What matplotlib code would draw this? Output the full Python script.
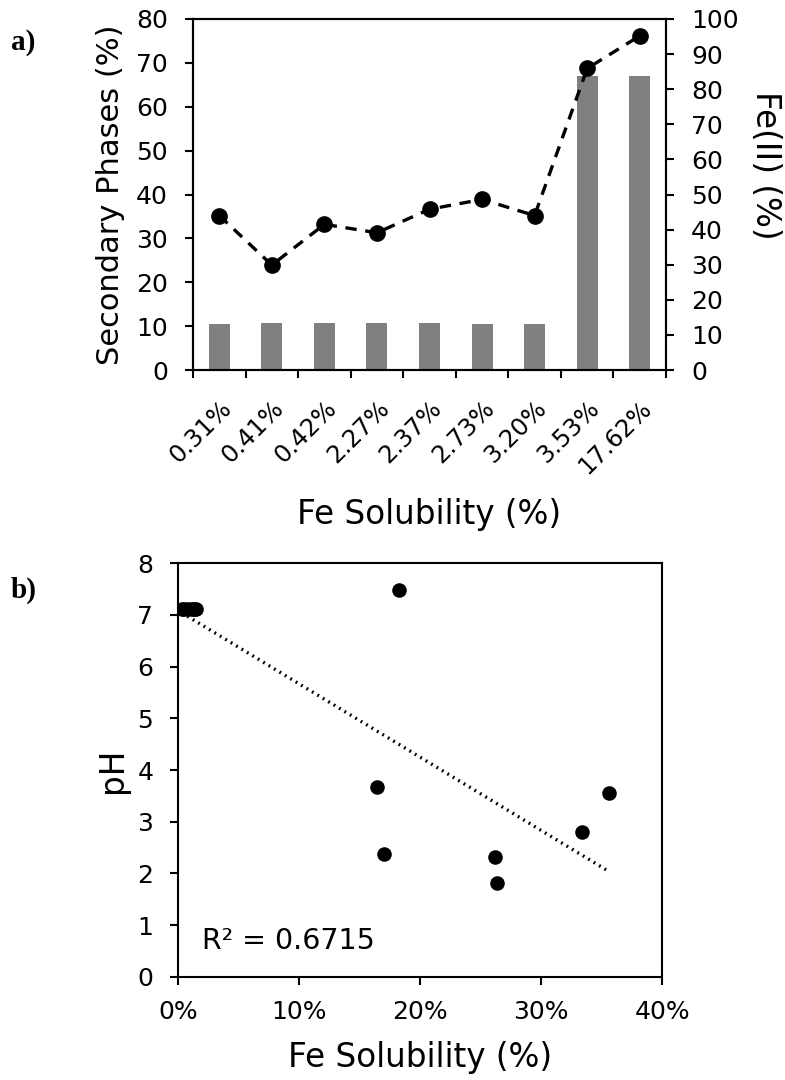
import matplotlib
matplotlib.use("Agg")
import matplotlib.pyplot as plt
import numpy as np

plt.rcParams['font.family'] = ['DejaVu Sans']

# ---- Panel a data ----
categories = ["0.31%", "0.41%", "0.42%", "2.27%", "2.37%", "2.73%", "3.20%", "3.53%", "17.62%"]
secondary_phases = [10.4, 10.6, 10.6, 10.6, 10.6, 10.4, 10.4, 67.0, 67.0]
fe_ii = [44.0, 29.9, 41.5, 39.1, 45.8, 48.6, 44.0, 85.9, 95.2]

# ---- Panel b data ----
fe_solubility = [0.003, 0.005, 0.008, 0.011, 0.013, 0.015,
                 0.1824, 0.1639, 0.1697, 0.2617, 0.2636, 0.3333, 0.3556]
ph = [7.12, 7.12, 7.12, 7.12, 7.12, 7.12,
      7.49, 3.68, 2.37, 2.32, 1.82, 2.80, 3.56]
r2_text = "R² = 0.6715"

W, H = 785, 1080
fig = plt.figure(figsize=(W / 100, H / 100), dpi=100)

TICK_FS = 18
CAT_FS = 17.5
LABEL_FS = 23.5
TICK_LEN = 6
SPINE_W = 1.5

# ---------------- Panel a ----------------
a_l, a_r, a_t, a_b = 193, 666, 19, 370
ax1 = fig.add_axes([a_l / W, 1 - a_b / H, (a_r - a_l) / W, (a_b - a_t) / H])
x = np.arange(len(categories))
ax1.bar(x, secondary_phases, width=0.4, color="#808080", zorder=2)
ax1.set_xlim(-0.5, len(categories) - 0.5)
ax1.set_ylim(0, 80)
ax1.set_yticks(np.arange(0, 81, 10))
ax1.set_xticks(np.arange(-0.5, len(categories), 1.0))
ax1.set_xticklabels([])
ax1.set_xticks(x, minor=True)
ax1.set_xticklabels(categories, minor=True, rotation=45, ha="right",
                    rotation_mode="anchor", fontsize=CAT_FS)
ax1.tick_params(axis="x", which="minor", length=0, pad=19)
ax1.tick_params(axis="x", which="major", direction="out", length=TICK_LEN, width=SPINE_W)
ax1.tick_params(axis="y", direction="out", length=TICK_LEN, width=SPINE_W,
                labelsize=TICK_FS, pad=12)
ax1.set_ylabel("Secondary Phases (%)", fontsize=22)
ax1.yaxis.set_label_coords((125 - a_l) / (a_r - a_l), 0.5)
ax1.set_xlabel("Fe Solubility (%)", fontsize=LABEL_FS)
ax1.xaxis.set_label_coords(0.5, (a_b - 498) / (a_b - a_t))
for s in ax1.spines.values():
    s.set_linewidth(SPINE_W)

ax2 = ax1.twinx()
ax2.plot(x, fe_ii, color="black", linestyle=(0, (3.4, 2.6)), linewidth=2.4,
         marker="o", markersize=11, zorder=3)
ax2.set_ylim(0, 100)
ax2.set_yticks(np.arange(0, 101, 10))
ax2.tick_params(axis="y", direction="out", length=TICK_LEN, width=SPINE_W,
                labelsize=TICK_FS, pad=12)
for s in ax2.spines.values():
    s.set_linewidth(SPINE_W)
fig.text(766 / W, 1 - 165 / H, "Fe(II) (%)", fontsize=LABEL_FS, rotation=270,
         ha="center", va="center")

fig.text(11 / W, 1 - 42 / H, "a)", fontsize=21, fontweight="bold",
         family="Liberation Serif", va="center")

# ---------------- Panel b ----------------
b_l, b_r, b_t, b_b = 178.3, 662.3, 563.3, 976.7
ax3 = fig.add_axes([b_l / W, 1 - b_b / H, (b_r - b_l) / W, (b_b - b_t) / H])
ax3.scatter(fe_solubility, ph, s=110, color="black", zorder=3, linewidths=0)
xs = np.array(fe_solubility)
ys = np.array(ph)
coef = np.polyfit(xs, ys, 1)
xl = np.array([xs.min(), xs.max()])
ax3.plot(xl, np.polyval(coef, xl), color="black", linestyle=(0, (0.55, 1.35)),
         linewidth=2.4, zorder=2)
ax3.set_xlim(0, 0.4)
ax3.set_ylim(0, 8)
ax3.set_xticks([0, 0.1, 0.2, 0.3, 0.4])
ax3.set_xticklabels(["0%", "10%", "20%", "30%", "40%"])
ax3.set_yticks(np.arange(0, 9, 1))
ax3.tick_params(direction="out", length=TICK_LEN, width=SPINE_W, labelsize=TICK_FS)
ax3.tick_params(axis="x", pad=11)
ax3.tick_params(axis="y", pad=12)
ax3.set_ylabel("pH", fontsize=LABEL_FS)
ax3.yaxis.set_label_coords((129 - b_l) / (b_r - b_l), 0.5)
ax3.set_xlabel("Fe Solubility (%)", fontsize=LABEL_FS)
ax3.xaxis.set_label_coords(0.5, (b_b - 1041) / (b_b - b_t))
for s in ax3.spines.values():
    s.set_linewidth(SPINE_W)
ax3.text(0.05, 0.087, r2_text, fontsize=20.5, va="center", ha="left",
         transform=ax3.transAxes)

fig.text(11 / W, 1 - 590 / H, "b)", fontsize=21, fontweight="bold",
         family="Liberation Serif", va="center")

fig.savefig("out.png", dpi=100)
